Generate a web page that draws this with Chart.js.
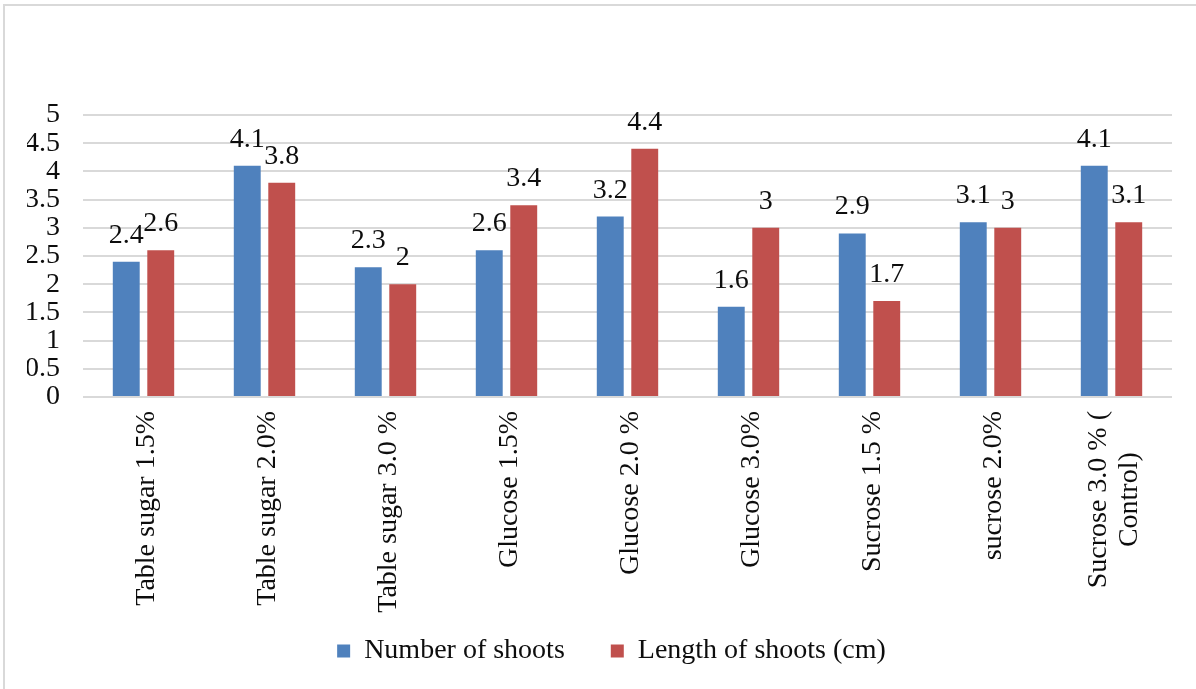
<!DOCTYPE html>
<html>
<head>
<meta charset="utf-8">
<script src="https://cdn.jsdelivr.net/npm/chart.js@4.4.1/dist/chart.umd.min.js"></script>
<style>
  html, body { margin: 0; padding: 0; background: #fff; overflow: hidden; }
  #wrap { position: relative; width: 1196px; height: 689px; }
  #frame { position: absolute; left: 3px; top: 4px; width: 1400px; height: 900px;
           border-left: 2px solid #d9d9d9; border-top: 2px solid #d9d9d9; pointer-events: none; }
  canvas { position: absolute; left: 0; top: 0; }
</style>
</head>
<body>
<div id="wrap">
  <canvas id="chart" width="1196" height="689"></canvas>
  <div id="frame"></div>
</div>
<script>
// Treatments (multi-line entries are drawn as stacked rotated lines)
const categories = [
  'Table sugar 1.5%',
  'Table sugar 2.0%',
  'Table sugar 3.0 %',
  'Glucose 1.5%',
  'Glucose 2.0 %',
  'Glucose 3.0%',
  'Sucrose 1.5 %',
  'sucrose 2.0%',
  ['Sucrose 3.0 % (', 'Control)']
];
const numberOfShoots = [2.4, 4.1, 2.3, 2.6, 3.2, 1.6, 2.9, 3.1, 4.1];
const lengthOfShoots = [2.6, 3.8, 2.0, 3.4, 4.4, 3.0, 1.7, 3.0, 3.1];
const seriesNames = ['Number of shoots', 'Length of shoots (cm)'];
const yTicks = { min: 0, max: 5, step: 0.5 };

const FONT = '"Liberation Serif", "Times New Roman", serif';
const SIZE = 28;
const TEXT = '#0d0d0d';

// Value labels above each bar
const valueLabels = {
  id: 'valueLabels',
  afterDatasetsDraw(chart) {
    const ctx = chart.ctx;
    ctx.save();
    ctx.font = SIZE + 'px ' + FONT;
    ctx.fillStyle = TEXT;
    ctx.textAlign = 'center';
    ctx.textBaseline = 'alphabetic';
    chart.data.datasets.forEach((ds, di) => {
      chart.getDatasetMeta(di).data.forEach((bar, i) => {
        ctx.fillText(String(ds.data[i]), bar.x, bar.y - 19);
      });
    });
    ctx.restore();
  }
};

// Rotated category labels, each line centred along its own length
const categoryLabels = {
  id: 'categoryLabels',
  afterDraw(chart) {
    const ctx = chart.ctx;
    const x = chart.scales.x;
    const lineH = 31;
    ctx.save();
    ctx.font = SIZE + 'px ' + FONT;
    ctx.fillStyle = TEXT;
    ctx.textAlign = 'right';
    ctx.textBaseline = 'middle';
    categories.forEach((lab, i) => {
      const lines = Array.isArray(lab) ? lab : [lab];
      const widths = lines.map(l => ctx.measureText(l).width);
      const maxW = Math.max(...widths);
      const cx = x.getPixelForValue(i) + 3;
      ctx.save();
      ctx.translate(cx, chart.chartArea.bottom + 14);
      ctx.rotate(-Math.PI / 2);
      lines.forEach((l, j) => {
        const off = (j - (lines.length - 1) / 2) * lineH;
        ctx.fillText(l, -(maxW - widths[j]) / 2, off);
      });
      ctx.restore();
    });
    ctx.restore();
  }
};

// Legend sits centred under the plot area rather than the whole canvas
const legendShift = {
  id: 'legendShift',
  afterLayout(chart) {
    const lg = chart.legend;
    if (!lg) return;
    const dx = 12;
    lg.left += dx;
    lg.right += dx;
  }
};

new Chart(document.getElementById('chart'), {
  type: 'bar',
  data: {
    labels: categories,
    datasets: [
      { label: seriesNames[0], data: numberOfShoots, backgroundColor: '#4f81bd',
        categoryPercentage: 0.57, barPercentage: 0.78 },
      { label: seriesNames[1], data: lengthOfShoots, backgroundColor: '#c0504d',
        categoryPercentage: 0.57, barPercentage: 0.78 }
    ]
  },
  options: {
    responsive: false,
    animation: false,
    layout: { padding: { top: 115, left: 27, right: 24, bottom: 14 } },
    plugins: {
      title: { display: false },
      tooltip: { enabled: false },
      legend: {
        position: 'bottom',
        labels: {
          font: { family: FONT, size: SIZE },
          color: TEXT,
          boxWidth: 13,
          boxHeight: 13,
          padding: 46
        }
      }
    },
    scales: {
      x: {
        grid: { display: false },
        border: { display: false },
        ticks: { display: false },
        afterFit(scale) { scale.height = 194; }
      },
      y: {
        min: yTicks.min,
        max: yTicks.max,
        border: { display: false },
        grid: { color: '#d9d9d9', lineWidth: 2, drawTicks: false },
        ticks: {
          stepSize: yTicks.step,
          autoSkip: false,
          padding: 23,
          color: TEXT,
          font: { family: FONT, size: SIZE },
          callback: (v) => String(Math.round(v * 10) / 10)
        },
        afterFit(scale) { scale.width = 56; }
      }
    }
  },
  plugins: [valueLabels, categoryLabels, legendShift]
});
</script>
</body>
</html>
